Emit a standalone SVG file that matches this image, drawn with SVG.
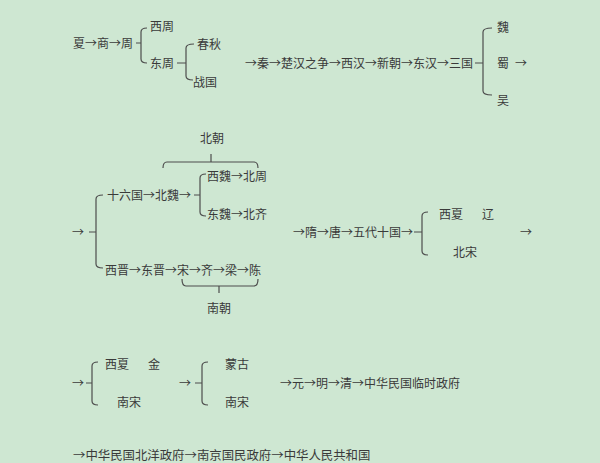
<svg xmlns="http://www.w3.org/2000/svg" width="600" height="463" viewBox="0 0 600 463">
<style>
text{font-family:"Noto Sans CJK SC","Noto Sans CJK TC",sans-serif;font-size:12px;fill:#3a3a3a}
.ln{fill:none;stroke:#4d4d4d;stroke-width:1.2}
</style>
<rect width="600" height="463" fill="#cee7d2"/>
<g id="connectors">
<path class="ln" d="M136,43H141M147,28Q141,28 141,32V59Q141,63 147,63"/>
<path class="ln" d="M177,63H186M194,44Q186,44 186,48V76Q186,80 193,80"/>
<path class="ln" d="M475,63H483M492,28Q483,28 483,32V91Q483,95 492,95"/>
<path class="ln" d="M163,168Q163,162 167,162H254Q258,162 258,168M211,162V154"/>
<path class="ln" d="M194,195H200M206,174Q200,174 200,178V212Q200,216 206,216"/>
<path class="ln" d="M89,232H96M103,195Q96,195 96,199V264Q96,268 103,268"/>
<path class="ln" d="M182,279Q182,286 186,286H254Q258,286 258,279M219,286V293"/>
<path class="ln" d="M414,232H422M428,212Q422,212 422,216V251Q422,255 428,255"/>
<path class="ln" d="M86,383H92M98,362Q92,362 92,366V401Q92,405 98,405"/>
<path class="ln" d="M195,383H202M208,362Q202,362 202,366V401Q202,405 208,405"/>
</g>
<g id="xia-shang-zhou"><text x="73" y="47.5">夏→商→周</text></g>
<g id="xizhou"><text x="150" y="30.5">西周</text></g>
<g id="dongzhou"><text x="150" y="67.5">东周</text></g>
<g id="chunqiu"><text x="197" y="48.5">春秋</text></g>
<g id="zhanguo"><text x="193" y="86.5">战国</text></g>
<g id="qin-sanguo"><text x="245" y="67.5">→秦→楚汉之争→西汉→新朝→东汉→三国</text></g>
<g id="wei"><text x="497" y="31.5">魏</text></g>
<g id="shu"><text x="497" y="67.5">蜀</text></g>
<g id="wu"><text x="497" y="104.5">吴</text></g>
<g id="arrow1"><text x="515" y="67.5">→</text></g>
<g id="beichao"><text x="200" y="142.5">北朝</text></g>
<g id="xiwei-beizhou"><text x="207" y="180.5">西魏→北周</text></g>
<g id="shiliuguo-beiwei"><text x="107" y="199.5">十六国→北魏→</text></g>
<g id="dongwei-beiqi"><text x="207" y="218.5">东魏→北齐</text></g>
<g id="arrow2"><text x="72" y="236.5">→</text></g>
<g id="xijin-chen"><text x="105" y="274.5">西晋→东晋→宋→齐→梁→陈</text></g>
<g id="nanchao"><text x="207" y="312.5">南朝</text></g>
<g id="sui-wudai"><text x="293" y="236.5">→隋→唐→五代十国→</text></g>
<g id="xixia-liao"><text x="439" y="218.5">西夏</text><text x="482" y="218.5">辽</text></g>
<g id="beisong"><text x="453" y="256.5">北宋</text></g>
<g id="arrow3"><text x="520" y="236.5">→</text></g>
<g id="arrow4"><text x="72" y="387.5">→</text></g>
<g id="xixia-jin"><text x="105" y="368.5">西夏</text><text x="148" y="368.5">金</text></g>
<g id="nansong1"><text x="117" y="406.5">南宋</text></g>
<g id="arrow5"><text x="179" y="387.5">→</text></g>
<g id="menggu"><text x="225" y="368.5">蒙古</text></g>
<g id="nansong2"><text x="225" y="406.5">南宋</text></g>
<g id="yuan-linshi"><text x="280" y="387.5">→元→明→清→中华民国临时政府</text></g>
<g id="beiyang-prc"><text x="73" y="459.5" style="font-size:12.4px">→中华民国北洋政府→南京国民政府→中华人民共和国</text></g>
</svg>
